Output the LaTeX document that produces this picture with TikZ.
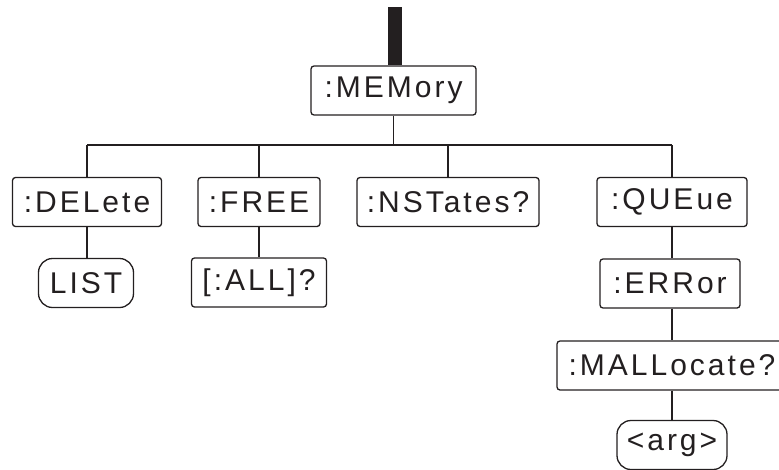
\documentclass[tikz,border=0pt]{standalone}
\usepackage{fontspec}
\setmainfont{Liberation Sans}[LetterSpace=10]
\definecolor{ink}{HTML}{231F20}
\begin{document}
\begin{tikzpicture}[x=1pt,y=-1pt,
  box/.style={draw=ink, text=ink, rounded corners=3pt, line width=1.3pt, minimum height=49pt, inner sep=0pt, font=\fontsize{30}{34}\selectfont},
  pill/.style={box, rounded corners=14pt},
  conn/.style={draw=ink, line width=1.3pt}]
\useasboundingbox (0,0) rectangle (779,469);
\node[box, minimum width=165pt] (mem) at (393.5,90.5) {:MEMory};
\node[box, minimum width=149pt] (dele) at (87,202) {:DELete};
\node[box, minimum width=122pt] (free) at (259,202) {:FREE};
\node[box, minimum width=182pt] (nst) at (448,202) {:NSTates?};
\node[box, minimum width=150pt] (que) at (672,202) {:QUEue};
\node[pill, minimum width=95pt] (list) at (86,283) {LIST};
\node[box, minimum width=135pt] (all) at (259,282.5) {[:ALL]?};
\node[box, minimum width=140pt] (err) at (670,283.5) {:ERRor};
\node[box, minimum width=230pt] (mall) at (672,365.5) {:MALLocate?};
\node[pill, minimum width=110pt] (arg) at (672,445) {<arg>};
\coordinate (top) at (395,7);
\coordinate (bus) at (0,145);
\draw[draw=ink, line width=14pt] (top) -- (top |- mem.north);
\draw[conn] (mem.south) -- (mem.south |- bus);
\draw[conn] (dele.north |- bus) -- (que.north |- bus);
\foreach \n in {dele,free,nst,que} \draw[conn] (\n.north) -- (\n.north |- bus);
\draw[conn] (dele.south) -- (dele.south |- list.north);
\draw[conn] (free.south) -- (free.south |- all.north);
\draw[conn] (que.south) -- (que.south |- err.north);
\draw[conn] (que.south |- err.south) -- (que.south |- mall.north);
\draw[conn] (mall.south) -- (arg.north);
\end{tikzpicture}
\end{document}
